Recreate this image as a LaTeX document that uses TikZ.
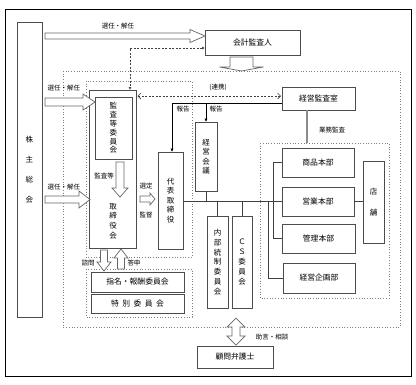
\documentclass[tikz,border=0pt]{standalone}
\usepackage{fontspec}
\setmainfont{Noto Sans CJK JP}
\usetikzlibrary{arrows.meta,calc}
\tikzset{
 box/.style={draw=black!70, line width=0.8pt, fill=white, inner sep=0pt, outer sep=0pt},
 frame/.style={draw=black!50, dotted, line width=0.7pt},
 harr/.style={draw=black!60, line width=0.7pt, fill=white},
 conn/.style={draw=black!75, line width=0.7pt},
 dashpat/.style={dash pattern=on 2pt off 1.5pt},
 lbl/.style={font=\fontsize{6.5}{7}\selectfont, inner sep=0pt},
 blbl/.style={font=\fontsize{7.8}{8}\selectfont, inner sep=0pt},
 vt/.style={font=\fontsize{7.5}{#1}\selectfont, align=center, inner sep=0pt},
 tipf/.style={-{Latex[length=3.5pt,width=3.2pt]}},
}
\newcommand\mkbox[5]{\node[box,minimum width={(#4)-(#2)},minimum height={(#5)-(#3)}] (#1) at ({((#2)+(#4))/2},{((#3)+(#5))/2}) {};}
% horizontal hollow arrow: x1, x2(tip), y, shaft half, head half, head length
\newcommand\harrow[6]{\draw[harr] (#1,{#3-#4}) -- ({#2-#6},{#3-#4}) -- ({#2-#6},{#3-#5}) -- (#2,#3) -- ({#2-#6},{#3+#5}) -- ({#2-#6},{#3+#4}) -- (#1,{#3+#4}) -- cycle;}
% vertical hollow arrow: x, y1, y2(tip), shaft half, head half, signed head length
\newcommand\varrow[6]{\draw[harr] ({#1-#4},#2) -- ({#1-#4},{#3-#6}) -- ({#1-#5},{#3-#6}) -- (#1,#3) -- ({#1+#5},{#3-#6}) -- ({#1+#4},{#3-#6}) -- ({#1+#4},#2) -- cycle;}
\begin{document}
\begin{tikzpicture}[x=1pt,y=-1pt]
\useasboundingbox (0,0) rectangle (416,384);
\draw[black, line width=1pt] (5,9) rectangle (411,376);
% dotted frames
\draw[frame] (63,71) rectangle (400,327);
\draw[frame] (86,81) rectangle (192,257);
\draw[frame] (86,269) rectangle (192,317);
\draw[frame] (260,143) rectangle (389,298);
% boxes
\mkbox{shu}{17}{22}{42}{317}
\mkbox{kaikei}{205}{30}{300}{55}
\mkbox{tori}{89}{90}{136}{248}
\mkbox{kansa}{95}{97}{132}{159}
\mkbox{daihyo}{158}{152}{183}{249}
\mkbox{keiei}{195}{122}{217}{191}
\mkbox{kansashitsu}{282}{87}{355}{110}
\mkbox{shohin}{282}{148}{354}{177}
\mkbox{eigyo}{282}{187}{354}{216}
\mkbox{kanri}{282}{224}{355}{253}
\mkbox{kikaku}{283}{263}{355}{293}
\mkbox{tenpo}{363}{161}{384}{243}
\mkbox{naibu}{207}{216}{228}{308}
\mkbox{cs}{232}{216}{252}{308}
\mkbox{shimei}{91}{272}{184}{292}
\mkbox{tokubetsu}{91}{294}{184}{313}
\mkbox{komon}{197}{346}{273}{368}
% box texts
\node[vt=20] at (shu) {株\\主\\総\\会};
\node[blbl] at (kaikei) {会計監査人};
\node[vt=8.8] at (kansa) {監\\査\\等\\委\\員\\会};
\node[vt=9.6] at (113,221) {取\\締\\役\\会};
\node[vt=9.6] at (daihyo) {代\\表\\取\\締\\役};
\node[vt=9.5] at (keiei) {経\\営\\会\\議};
\node[blbl] at (kansashitsu) {経営監査室};
\node[blbl] at (shohin) {商品本部};
\node[blbl] at (eigyo) {営業本部};
\node[blbl] at (kanri) {管理本部};
\node[blbl] at (kikaku) {経営企画部};
\node[vt=21] at (tenpo) {店\\舗};
\node[vt=9.8] at (naibu) {内\\部\\統\\制\\委\\員\\会};
\node[vt=9.8] at (cs) {Ｃ\\Ｓ\\委\\員\\会};
\node[blbl] at (shimei) {指名・報酬委員会};
\node[blbl] at (tokubetsu) {特\hspace{3.5pt}別\hspace{3.5pt}委\hspace{3.5pt}員\hspace{3.5pt}会};
\node[blbl] at (komon) {顧問弁護士};
% dashed connector kaikei - tori
\coordinate (d1) at (130,48);
\draw[conn, dashpat, {Latex[length=3pt,width=3pt]}-{Latex[length=3pt,width=3pt]}] (kaikei.west |- d1) -- (d1) -- (d1 |- tori.north);
% renkei
\coordinate (rl) at (0,96);
\draw[conn, dashpat, {Straight Barb[length=3pt,width=6pt]}-{Straight Barb[length=3pt,width=6pt]}, shorten <=1.5pt, shorten >=1pt] (tori.east |- rl) -- (kansashitsu.west |- rl);
% houkoku
\coordinate (hk) at (0,103);
\coordinate (hx) at (172,0);
\draw[black, line width=0.9pt, tipf] (kansashitsu.west |- hk) -- (hx |- hk) -- (hx |- daihyo.north);
\draw[black, line width=0.9pt, tipf] (keiei.north |- hk) -- (keiei.north);
% gyomu kansa
\coordinate (g) at (307,143);
\draw[black!45, line width=2pt] (kansashitsu.south -| g) -- (g);
% organisation lines
\coordinate (ml) at (0,201);
\draw[conn] (daihyo.east |- ml) -- (eigyo.west |- ml);
\draw[conn] (keiei.south) -- (keiei.south |- ml);
\draw[conn] (naibu.north |- ml) -- (naibu.north);
\draw[conn] (cs.north |- ml) -- (cs.north);
\coordinate (b1) at (268,0);
\draw[conn] (b1 |- ml) -- (b1 |- kikaku.west) -- (kikaku.west);
\coordinate (b2) at (273,0);
\draw[conn] (shohin.west) -- (b2 |- shohin.west) -- (b2 |- kanri.west) -- (kanri.west);
\draw[conn] (eigyo.east) -- (tenpo.west |- eigyo.east);
% hollow arrows
\harrow{45}{205}{36}{3}{6.5}{15}
\harrow{45}{95}{102}{4}{8}{12}
\harrow{45}{90}{199.5}{3.5}{8.5}{11}
\harrow{140}{155}{199}{3}{6}{5}
\varrow{120}{162}{197}{4}{8}{9}
\varrow{104}{250}{271}{3.5}{7}{9}
\varrow{121}{269}{249}{3.5}{7}{-9}
\varrow{241.5}{57}{71}{11.5}{22}{4}
\draw[harr] (236,318) -- (245,327) -- (240,327) -- (240,336) -- (245,336) -- (236,345) -- (227,336) -- (232,336) -- (232,327) -- (227,327) -- cycle;
% labels
\node[lbl] at (118,26) {選任・解任};
\node[lbl] at (64,88) {選任・解任};
\node[lbl] at (64,187) {選任・解任};
\node[lbl] at (104,176) {監査等};
\node[lbl] at (146,186) {選定};
\node[lbl] at (146,215) {監督};
\node[lbl] at (183,109) {報告};
\node[lbl] at (216,109) {報告};
\node[lbl] at (218,87) {(連携)};
\node[lbl] at (332,130) {業務監査};
\node[lbl] at (88,263) {諮問};
\node[lbl] at (134,263) {答申};
\node[lbl] at (272,337) {助言・相談};
\end{tikzpicture}
\end{document}
